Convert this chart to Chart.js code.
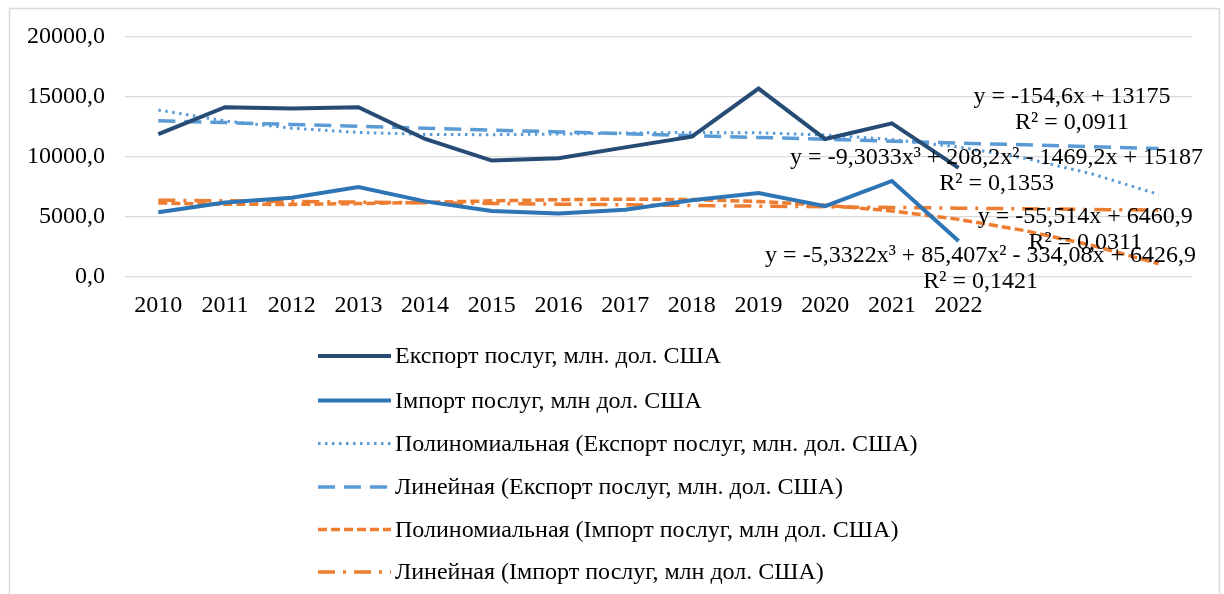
<!DOCTYPE html>
<html>
<head>
<meta charset="utf-8">
<script src="https://cdn.jsdelivr.net/npm/chart.js@4.4.1/dist/chart.umd.min.js"></script>
<style>
  html, body { margin: 0; padding: 0; background: #ffffff; }
  #wrap { position: relative; width: 1224px; height: 594px; }
</style>
</head>
<body>
<div id="wrap"><canvas id="c" width="1224" height="594"></canvas></div>
<script>
// ---- data ----
const categories = ['2010','2011','2012','2013','2014','2015','2016','2017','2018','2019','2020','2021','2022','','',''];
const exportServices = [11900, 14150, 14050, 14150, 11500, 9700, 9900, 10800, 11700, 15700, 11500, 12800, 9100];
const importServices = [5400, 6200, 6600, 7500, 6300, 5500, 5300, 5600, 6400, 7000, 5900, 8000, 3000];
// trend lines (incl. 3-period forecast)
const exportPolyTrend = [13917, 13007, 12402, 12046, 11883, 11858, 11913, 11995, 12046, 12012, 11835, 11461, 10834, 9897, 8595, 6873];
const exportLinTrend = [13020, 12866, 12711, 12557, 12402, 12247, 12093, 11938, 11784, 11629, 11474, 11320, 11165, 11011, 10856, 10701];
const importPolyTrend = [6173, 6058, 6049, 6116, 6225, 6345, 6444, 6490, 6451, 6295, 5989, 5503, 4803, 3858, 2636, 1105];
const importLinTrend = [6405, 6350, 6294, 6239, 6183, 6128, 6072, 6017, 5961, 5906, 5850, 5795, 5739, 5684, 5628, 5573];
const seriesNames = [
  'Експорт послуг, млн. дол. США',
  'Імпорт послуг, млн дол. США',
  'Полиномиальная (Експорт послуг, млн. дол. США)',
  'Линейная (Експорт послуг, млн. дол. США)',
  'Полиномиальная (Імпорт послуг, млн дол. США)',
  'Линейная (Імпорт послуг, млн дол. США)'
];
const yTicks = [0, 5000, 10000, 15000, 20000];
const equations = [
  { lines: ['y = -154,6x + 13175', 'R² = 0,0911'], at: [13.7, 15000] },
  { lines: ['y = -9,3033x³ + 208,2x² - 1469,2x + 15187', 'R² = 0,1353'], at: [12.57, 9950] },
  { lines: ['y = -55,514x + 6460,9', 'R² = 0,0311'], at: [13.9, 5050] },
  { lines: ['y = -5,3322x³ + 85,407x² - 334,08x + 6426,9', 'R² = 0,1421'], at: [12.33, 1750] }
];

const FONT = '"Liberation Serif", "Times New Roman", serif';
const FS = 24;
const navy = '#264B75';
const blue = '#2E75B6';
const lightBlue = '#5B9BD5';
const orange = '#ED7D31';

const datasets = [
  { label: seriesNames[0], data: exportServices, borderColor: navy, borderWidth: 4, order: 1 },
  { label: seriesNames[1], data: importServices, borderColor: blue, borderWidth: 4, order: 2 },
  { label: seriesNames[2], data: exportPolyTrend, borderColor: lightBlue, borderWidth: 3, borderDash: [2.5, 4.5], order: 3 },
  { label: seriesNames[3], data: exportLinTrend, borderColor: lightBlue, borderWidth: 3.5, borderDash: [17, 9], order: 4 },
  { label: seriesNames[4], data: importPolyTrend, borderColor: orange, borderWidth: 3.5, borderDash: [9, 4], order: 5 },
  { label: seriesNames[5], data: importLinTrend, borderColor: orange, borderWidth: 3.5, borderDash: [17, 8, 3, 8], order: 6 }
].map(d => Object.assign({ fill: false, pointRadius: 0, pointHoverRadius: 0, tension: 0, backgroundColor: d.borderColor }, d));

const framePlugin = {
  id: 'frame',
  beforeDraw(chart) {
    const ctx = chart.ctx;
    ctx.save();
    ctx.fillStyle = '#fff';
    ctx.fillRect(0, 0, chart.width, chart.height);
    ctx.strokeStyle = '#d9d9d9';
    ctx.lineWidth = 1.5;
    ctx.strokeRect(9.5, 8.5, 1210, 600);
    ctx.restore();
  }
};

const eqPlugin = {
  id: 'equations',
  afterDatasetsDraw(chart) {
    const ctx = chart.ctx;
    const xs = chart.scales.x, ys = chart.scales.y;
    const step = xs.getPixelForValue(1) - xs.getPixelForValue(0);
    ctx.save();
    ctx.fillStyle = '#000';
    ctx.font = FS + 'px ' + FONT;
    ctx.textAlign = 'center';
    ctx.textBaseline = 'middle';
    equations.forEach(eq => {
      const x = xs.getPixelForValue(0) + eq.at[0] * step;
      const y = ys.getPixelForValue(eq.at[1]);
      eq.lines.forEach((t, i) => ctx.fillText(t, x, y + i * 26));
    });
    ctx.restore();
  }
};

const legendPlugin = {
  id: 'vlegend',
  afterDraw(chart) {
    const ctx = chart.ctx;
    const rowsY = [356, 400.5, 443.5, 487, 529.5, 572];
    ctx.save();
    ctx.font = FS + 'px ' + FONT;
    ctx.textBaseline = 'middle';
    ctx.textAlign = 'left';
    chart.data.datasets.forEach((ds, i) => {
      const y = rowsY[i];
      ctx.save();
      ctx.strokeStyle = ds.borderColor;
      ctx.lineWidth = ds.borderWidth;
      ctx.setLineDash(ds.borderDash || []);
      ctx.beginPath();
      ctx.moveTo(318, y);
      ctx.lineTo(391, y);
      ctx.stroke();
      ctx.restore();
      ctx.fillStyle = '#000';
      ctx.fillText(ds.label, 395, y + 1);
    });
    ctx.restore();
  }
};

new Chart(document.getElementById('c'), {
  type: 'line',
  data: { labels: categories, datasets },
  options: {
    responsive: false,
    animation: false,
    events: [],
    layout: { padding: { left: 0, right: 32, top: 37, bottom: 267 } },
    plugins: { legend: { display: false }, tooltip: { enabled: false } },
    scales: {
      x: {
        offset: true,
        grid: { display: false, drawTicks: false },
        border: { display: false },
        ticks: { color: '#000', font: { family: FONT, size: FS }, padding: 14, maxRotation: 0, autoSkip: false },
        afterFit(s) { s.height = 50; }
      },
      y: {
        min: 0, max: 20000,
        afterBuildTicks(s) { s.ticks = yTicks.map(v => ({ value: v })); },
        grid: { color: '#d9d9d9', lineWidth: 1.3, drawTicks: false },
        border: { display: false },
        ticks: {
          color: '#000', font: { family: FONT, size: FS }, padding: 20,
          callback: v => v.toFixed(1).replace('.', ',')
        },
        afterFit(s) { s.width = 125; }
      }
    }
  },
  plugins: [framePlugin, eqPlugin, legendPlugin]
});
</script>
</body>
</html>
